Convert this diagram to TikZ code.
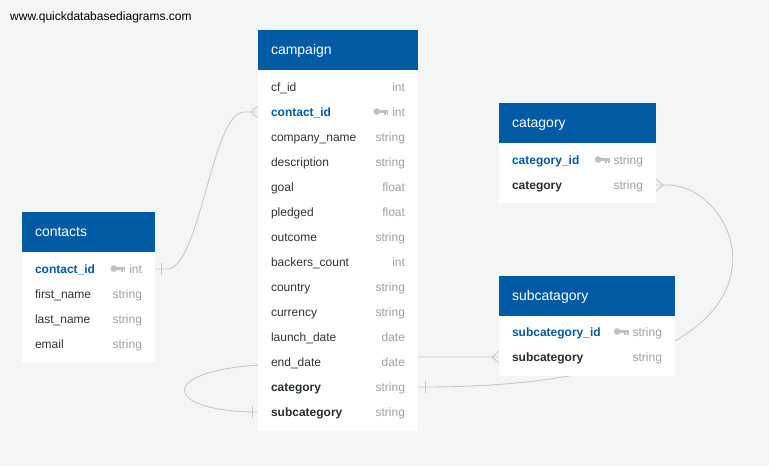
\documentclass[tikz,border=0pt]{standalone}
\usepackage{fontspec}
\setmainfont{Liberation Sans}
\definecolor{hdr}{RGB}{0,90,164}
\definecolor{bgc}{RGB}{244,245,245}
\definecolor{txt}{RGB}{51,51,51}
\definecolor{bld}{RGB}{40,46,52}
\definecolor{typ}{RGB}{160,160,160}
\definecolor{lnk}{RGB}{200,200,200}
\definecolor{keyc}{RGB}{192,192,192}
\pgfdeclarelayer{back}
\pgfdeclarelayer{links}
\pgfsetlayers{back,links,main}

% #1 name, #2 left x, #3 centre y, #4 width, #5 field, #6 type, #7 field style
\newcommand\erow[7]{%
  \node[rowbox, minimum width=#4pt, anchor=west] (#1) at (#2,#3) {};
  \node[fieldtext, #7, anchor=west] (#1-f) at ([xshift=13pt]#1.west) {#5};
  \node[typetext, anchor=east] (#1-t) at ([xshift=-13pt]#1.east) {#6};
}
\newcommand\keyat[1]{\pic at ([xshift=-15.5pt,yshift=0.5pt]#1-t.west) {keyicon};}
% #1 name, #2 left x, #3 top y, #4 width, #5 body height, #6 title
\newcommand\etable[6]{%
  \node[hdrbox, minimum width=#4pt, anchor=north west] (#1-h) at (#2,#3) {};
  \node[hdrtext, anchor=west] (#1-ht) at ([xshift=13pt]#1-h.west) {#6};
  \node[bodybox, minimum width=#4pt, minimum height=#5pt, anchor=north west] (#1-b) at (#1-h.south west) {};
}
\newcommand\crowW[1]{\draw[conn] ([xshift=-7pt]#1) -- ([yshift=6pt]#1) ([xshift=-7pt]#1) -- ([yshift=-6pt]#1);}
\newcommand\crowE[1]{\draw[conn] ([xshift=7pt]#1) -- ([yshift=6pt]#1) ([xshift=7pt]#1) -- ([yshift=-6pt]#1);}
\newcommand\onetick[2]{\draw[conn] ([xshift=#2,yshift=-6pt]#1) -- ([xshift=#2,yshift=6pt]#1);}

\begin{document}
\begin{tikzpicture}[x=1pt,y=-1pt,
  rowbox/.style={draw=none, inner sep=0pt, outer sep=0pt, minimum height=25pt},
  fieldtext/.style={inner sep=0pt, outer sep=0pt, text height=8.6pt, text depth=0pt, font=\fontsize{12}{14}\selectfont, text=txt},
  plainf/.style={},
  keyf/.style={font=\fontsize{12}{14}\selectfont\bfseries, text=hdr},
  boldf/.style={font=\fontsize{12}{14}\selectfont\bfseries, text=bld},
  typetext/.style={inner sep=0pt, outer sep=0pt, text height=8.6pt, text depth=0pt, font=\fontsize{12}{14}\selectfont, text=typ},
  hdrbox/.style={fill=hdr, draw=none, inner sep=0pt, outer sep=0pt, minimum height=39.5pt},
  hdrtext/.style={inner sep=0pt, outer sep=0pt, text height=10pt, text depth=0pt, font=\fontsize{14}{16}\selectfont, text=white},
  bodybox/.style={fill=white, draw=none, inner sep=0pt, outer sep=0pt},
  conn/.style={draw=lnk, line width=0.9pt},
  keyicon/.pic={
    \fill[keyc] (0,0) circle (3.3);
    \fill[keyc] (2,-1.4) rectangle (11.5,1.2);
    \fill[keyc] (7.3,0) rectangle (8.9,3);
    \fill[keyc] (10,0) rectangle (11.5,3);
  }]
\begin{pgfonlayer}{back}
  \fill[bgc] (0,0) rectangle (769,466);
\end{pgfonlayer}
\useasboundingbox (0,0) rectangle (769,466);

\node[anchor=west, inner sep=0pt, text height=8.6pt, text depth=0pt, font=\fontsize{12}{14}\selectfont, text=black] (url) at (10,16) {www.quickdatabasediagrams.com};

% campaign
\etable{ca}{258}{30}{160}{361}{campaign}
\erow{ca-cfid}{258}{87}{160}{cf\_id}{int}{plainf}
\erow{ca-contact}{258}{112}{160}{contact\_id}{int}{keyf}
\keyat{ca-contact}
\erow{ca-company}{258}{137}{160}{company\_name}{string}{plainf}
\erow{ca-desc}{258}{162}{160}{description}{string}{plainf}
\erow{ca-goal}{258}{187}{160}{goal}{float}{plainf}
\erow{ca-pledged}{258}{212}{160}{pledged}{float}{plainf}
\erow{ca-outcome}{258}{237}{160}{outcome}{string}{plainf}
\erow{ca-backers}{258}{262}{160}{backers\_count}{int}{plainf}
\erow{ca-country}{258}{287}{160}{country}{string}{plainf}
\erow{ca-currency}{258}{312}{160}{currency}{string}{plainf}
\erow{ca-launch}{258}{337}{160}{launch\_date}{date}{plainf}
\erow{ca-end}{258}{362}{160}{end\_date}{date}{plainf}
\erow{ca-category}{258}{387}{160}{category}{string}{boldf}
\erow{ca-subcategory}{258}{412}{160}{subcategory}{string}{boldf}

% contacts
\etable{co}{22}{212}{133}{110}{contacts}
\erow{co-contact}{22}{269}{133}{contact\_id}{int}{keyf}
\keyat{co-contact}
\erow{co-first}{22}{294}{133}{first\_name}{string}{plainf}
\erow{co-last}{22}{319}{133}{last\_name}{string}{plainf}
\erow{co-email}{22}{344}{133}{email}{string}{plainf}

% catagory
\etable{cg}{499}{103}{157}{60}{catagory}
\erow{cg-id}{499}{160}{157}{category\_id}{string}{keyf}
\keyat{cg-id}
\erow{cg-category}{499}{185}{157}{category}{string}{boldf}

% subcatagory
\etable{sc}{499}{276}{176}{60}{subcatagory}
\erow{sc-id}{499}{332}{176}{subcategory\_id}{string}{keyf}
\keyat{sc-id}
\erow{sc-sub}{499}{357}{176}{subcategory}{string}{boldf}

\begin{pgfonlayer}{links}
  % contacts.contact_id -- campaign.contact_id
  \draw[conn] (co-contact.east) -- (167,269) .. controls (200,269) and (212,112) .. (244,112) -- (ca-contact.west);
  \onetick{co-contact.east}{6pt}
  \crowW{ca-contact.west}
  % campaign.category -- catagory.category
  \draw[conn] (ca-category.east) -- (430,387) .. controls (830,385) and (745,185) .. (668,185) -- (cg-category.east);
  \onetick{ca-category.east}{7pt}
  \crowE{cg-category.east}
  % campaign.subcategory -- subcatagory.subcategory
  \draw[conn] (sc-sub.west) -- (418,357) -- (258,365) .. controls (155,372) and (165,412) .. (ca-subcategory.west);
  \crowW{sc-sub.west}
  \onetick{ca-subcategory.west}{-6pt}
\end{pgfonlayer}
\end{tikzpicture}
\end{document}
